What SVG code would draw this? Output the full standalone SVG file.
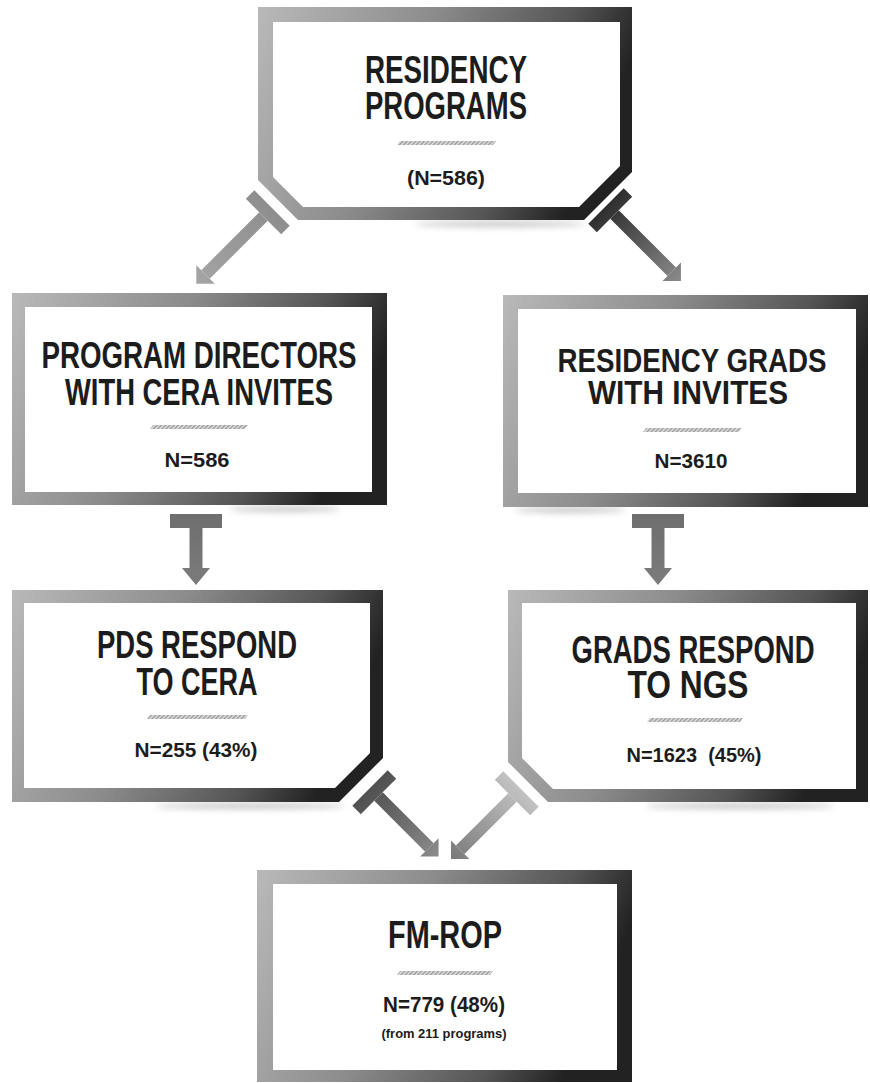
<svg xmlns="http://www.w3.org/2000/svg" width="870" height="1083" viewBox="0 0 870 1083">
<style>
.t{font-family:"Liberation Sans",Arial,sans-serif;font-weight:bold;fill:#1c1c1c;text-anchor:middle}
.frame{fill-rule:evenodd}
.hatch{fill:url(#hatch)}
.shadow{fill:#9a9a9a;opacity:0.55;filter:url(#blur)}
</style>
<defs>
<linearGradient id="boxg" x1="0" y1="0" x2="1" y2="0.25">
<stop offset="0" stop-color="#b9b9b9"/>
<stop offset="0.45" stop-color="#8c8c8c"/>
<stop offset="0.8" stop-color="#555"/>
<stop offset="1" stop-color="#222"/>
</linearGradient>
<linearGradient id="aLight" gradientUnits="userSpaceOnUse" x1="0" y1="0" x2="0" y2="105">
<stop offset="0" stop-color="#8e8e8e"/><stop offset="1" stop-color="#a4a4a4"/>
</linearGradient>
<linearGradient id="aDark" gradientUnits="userSpaceOnUse" x1="0" y1="0" x2="0" y2="105">
<stop offset="0" stop-color="#2e2e2e"/><stop offset="1" stop-color="#8a8a8a"/>
</linearGradient>
<linearGradient id="aMid" gradientUnits="userSpaceOnUse" x1="0" y1="0" x2="0" y2="75">
<stop offset="0" stop-color="#6e6e6e"/><stop offset="1" stop-color="#7c7c7c"/>
</linearGradient>
<linearGradient id="aDark2" gradientUnits="userSpaceOnUse" x1="0" y1="0" x2="0" y2="98">
<stop offset="0" stop-color="#505050"/><stop offset="1" stop-color="#8c8c8c"/>
</linearGradient>
<linearGradient id="aPale" gradientUnits="userSpaceOnUse" x1="0" y1="0" x2="0" y2="98">
<stop offset="0" stop-color="#c2c2c2"/><stop offset="1" stop-color="#7a7a7a"/>
</linearGradient>
<pattern id="hatch" patternUnits="userSpaceOnUse" width="3" height="3" patternTransform="rotate(45)">
<rect width="3" height="3" fill="#e6e6e6"/>
<rect width="1.6" height="3" fill="#9c9c9c"/>
</pattern>
<filter id="blur" x="-20%" y="-200%" width="140%" height="500%"><feGaussianBlur stdDeviation="3"/></filter>
</defs>

<rect width="870" height="1083" fill="#ffffff"/>

<g id="shadows">
<ellipse class="shadow" cx="500" cy="224" rx="85" ry="3"/>
<ellipse class="shadow" cx="285" cy="509" rx="55" ry="3"/>
<ellipse class="shadow" cx="570" cy="510" rx="55" ry="3"/>
<ellipse class="shadow" cx="250" cy="806" rx="95" ry="3"/>
<ellipse class="shadow" cx="740" cy="806" rx="95" ry="3"/>
</g>

<g id="connectors">
<g transform="translate(272,208) rotate(45)" fill="url(#aLight)">
<rect x="-25" y="0" width="50" height="12"/>
<rect x="-6" y="12" width="12" height="82"/>
<polygon points="-13,94 13,94 0,107"/>
</g>
<g transform="translate(606,206) rotate(-45)" fill="url(#aDark)">
<rect x="-25" y="0" width="50" height="12"/>
<rect x="-6" y="12" width="12" height="81"/>
<polygon points="-13,93 13,93 0,106"/>
</g>
<g transform="translate(196,514)" fill="url(#aMid)">
<rect x="-26" y="0" width="52" height="14"/>
<rect x="-6.5" y="14" width="13" height="40"/>
<polygon points="-14,54 14,54 0,71"/>
</g>
<g transform="translate(658,514)" fill="url(#aMid)">
<rect x="-26" y="0" width="52" height="14"/>
<rect x="-6.5" y="14" width="13" height="40"/>
<polygon points="-14,54 14,54 0,71"/>
</g>
<g transform="translate(370,788) rotate(-45)" fill="url(#aDark2)">
<rect x="-25" y="0" width="50" height="12"/>
<rect x="-6" y="12" width="12" height="72"/>
<polygon points="-13,84 13,84 0,97"/>
</g>
<g transform="translate(521,789) rotate(45)" fill="url(#aPale)">
<rect x="-25" y="0" width="50" height="12"/>
<rect x="-6" y="12" width="12" height="74"/>
<polygon points="-13,86 13,86 0,99"/>
</g>
</g>

<g id="node-residency-programs">
<path class="frame" fill="url(#boxg)" d="M258,7 H632 V172 L584,220 H298 L258,180 Z M273,22 V177 L303,207 H579 L620,166 V22 Z"/>
<text class="t" x="446" y="83" font-size="39" textLength="162" lengthAdjust="spacingAndGlyphs">RESIDENCY</text>
<text class="t" x="446" y="119" font-size="39" textLength="162" lengthAdjust="spacingAndGlyphs">PROGRAMS</text>
<polygon class="hatch" points="400,141 496,141 493,145 397,145"/>
<text class="t" x="446" y="185" font-size="21" textLength="78" lengthAdjust="spacingAndGlyphs">(N=586)</text>
</g>

<g id="node-program-directors">
<path class="frame" fill="url(#boxg)" d="M12,293 H387 V505 H12 Z M25,307 V492 H372 V307 Z"/>
<text class="t" x="199" y="368" font-size="37" textLength="315" lengthAdjust="spacingAndGlyphs">PROGRAM DIRECTORS</text>
<text class="t" x="199" y="405" font-size="37" textLength="268" lengthAdjust="spacingAndGlyphs">WITH CERA INVITES</text>
<polygon class="hatch" points="153,425 248,425 245,429 150,429"/>
<text class="t" x="197" y="467" font-size="20" textLength="65" lengthAdjust="spacingAndGlyphs">N=586</text>
</g>

<g id="node-residency-grads">
<path class="frame" fill="url(#boxg)" d="M503,295 H868 V507 H503 Z M518,309 V493 H856 V309 Z"/>
<text class="t" x="692" y="372" font-size="33" textLength="269" lengthAdjust="spacingAndGlyphs">RESIDENCY GRADS</text>
<text class="t" x="688" y="404" font-size="33" textLength="200" lengthAdjust="spacingAndGlyphs">WITH INVITES</text>
<polygon class="hatch" points="646,428 742,428 739,432 643,432"/>
<text class="t" x="691" y="468" font-size="20" textLength="73" lengthAdjust="spacingAndGlyphs">N=3610</text>
</g>

<g id="node-pds-respond">
<path class="frame" fill="url(#boxg)" d="M12,590 H383 V758 L339,802 H12 Z M24,603 V788 H335 L370,753 V603 Z"/>
<text class="t" x="197" y="658" font-size="39" textLength="200" lengthAdjust="spacingAndGlyphs">PDS RESPOND</text>
<text class="t" x="197" y="695" font-size="39" textLength="121" lengthAdjust="spacingAndGlyphs">TO CERA</text>
<polygon class="hatch" points="150,715 248,715 245,719 147,719"/>
<text class="t" x="196" y="757" font-size="20" textLength="123" lengthAdjust="spacingAndGlyphs">N=255 (43%)</text>
</g>

<g id="node-grads-respond">
<path class="frame" fill="url(#boxg)" d="M508,590 H868 V802 H548 L508,762 Z M522,603 V758 L553,789 H856 V603 Z"/>
<text class="t" x="693" y="663" font-size="39" textLength="243" lengthAdjust="spacingAndGlyphs">GRADS RESPOND</text>
<text class="t" x="688" y="698" font-size="39" textLength="121" lengthAdjust="spacingAndGlyphs">TO NGS</text>
<polygon class="hatch" points="650,718 743,718 740,722 647,722"/>
<text class="t" x="694" y="762" font-size="20" textLength="135" lengthAdjust="spacingAndGlyphs" xml:space="preserve">N=1623  (45%)</text>
</g>

<g id="node-fm-rop">
<path class="frame" fill="url(#boxg)" d="M257,870 H632 V1082 H257 Z M273,884 V1070 H617 V884 Z"/>
<text class="t" x="445" y="948" font-size="38" textLength="114" lengthAdjust="spacingAndGlyphs">FM-ROP</text>
<polygon class="hatch" points="400,971 493,971 490,975 397,975"/>
<text class="t" x="444" y="1012" font-size="22" textLength="122" lengthAdjust="spacingAndGlyphs">N=779 (48%)</text>
<text class="t" x="444" y="1038" font-size="12" font-weight="normal" textLength="125" lengthAdjust="spacingAndGlyphs">(from 211 programs)</text>
</g>
</svg>
